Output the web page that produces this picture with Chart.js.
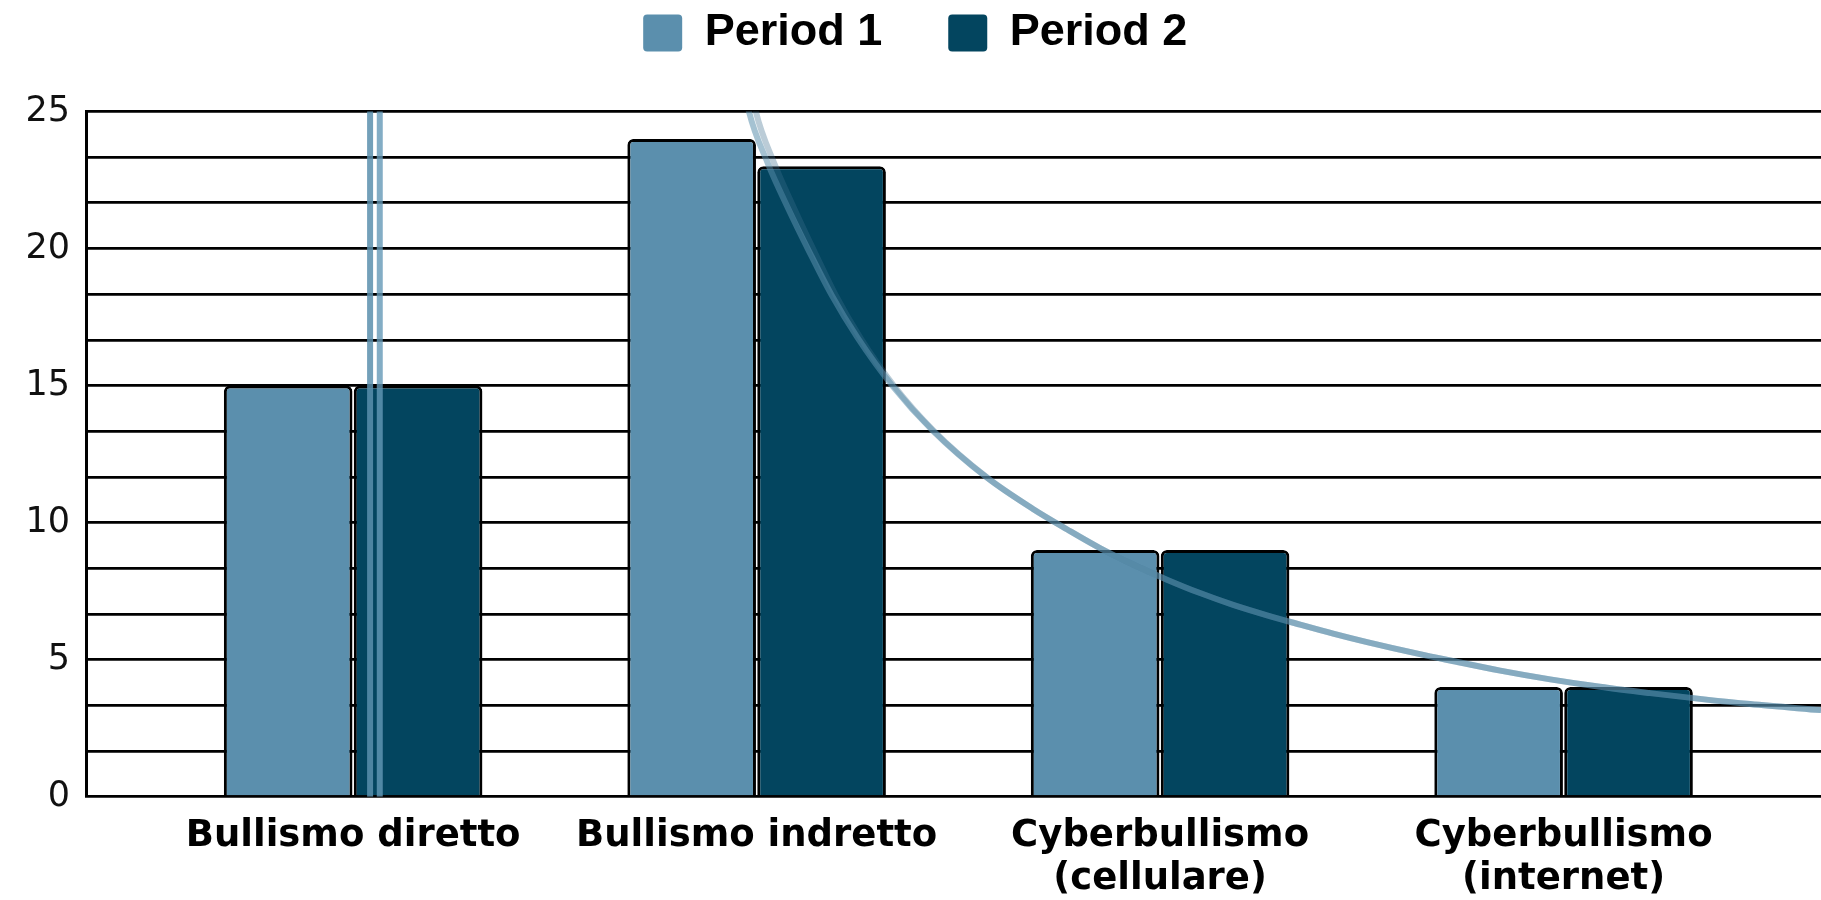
<!DOCTYPE html>
<html>
<head>
<meta charset="utf-8">
<title>Bullismo e cyberbullismo</title>
<script src="https://cdn.jsdelivr.net/npm/chart.js@4/dist/chart.umd.min.js"></script>
<style>
html, body { margin: 0; padding: 0; background: #fff; }
#wrap { position: relative; width: 1821px; height: 900px; }
</style>
</head>
<body>
<div id="wrap"><canvas id="chart"></canvas></div>
<script>
var categories = [['Bullismo diretto'], ['Bullismo indretto'], ['Cyberbullismo', '(cellulare)'], ['Cyberbullismo', '(internet)']];
var seriesNames = ['Period 1', 'Period 2'];
var period1 = [15, 24, 9, 4];
var period2 = [15, 23, 9, 4];
var yTickLabels = [0, 5, 10, 15, 20, 25];
var yMinorStep = 5 / 3;

// trend curves, x in category units (1 = first category)
var trend1 = [[1.955, 27], [1.981, 25], [2.028, 23.1], [2.077, 21.5], [2.130, 19.9], [2.186, 18.3], [2.250, 16.75],
	[2.336, 15.0], [2.437, 13.35], [2.570, 11.65], [2.685, 10.5], [2.770, 9.75], [2.851, 9.07], [2.933, 8.47],
	[3.017, 7.92], [3.099, 7.43], [3.181, 7.0], [3.265, 6.62], [3.347, 6.28], [3.429, 5.95], [3.513, 5.64],
	[3.644, 5.2], [3.719, 4.97], [3.843, 4.6], [3.967, 4.28], [4.090, 4.01], [4.214, 3.78], [4.338, 3.57],
	[4.462, 3.38], [4.638, 3.16]];
var trend2 = [[1.972, 27], [1.998, 25], [2.044, 23.1], [2.092, 21.5], [2.143, 19.9], [2.196, 18.3], [2.257, 16.75],
	[2.340, 15.0], [2.439, 13.35], [2.571, 11.65], [2.685, 10.5], [2.770, 9.75], [2.851, 9.07], [2.933, 8.47],
	[3.017, 7.92], [3.099, 7.43], [3.181, 7.0], [3.265, 6.62], [3.347, 6.28], [3.429, 5.95], [3.513, 5.64],
	[3.644, 5.2], [3.719, 4.97], [3.843, 4.6], [3.967, 4.28], [4.090, 4.01], [4.214, 3.78], [4.338, 3.57],
	[4.462, 3.38], [4.638, 3.16]];
// the two near-vertical strokes of the trends beside the first category
var trendDrop1 = [[1.042, 0], [1.042, 27]];
var trendDrop2 = [[1.066, 0], [1.066, 27]];

var colors = ['#5b8fad', '#03455f'];

function pts(list){
	return list.map(function(p){ return { x: p[0], y: p[1] }; });
}

function barData(values){
	return values.map(function(v, i){ return { x: i + 1, y: v }; });
}

function barSet(label, values, color){
	return {
		type: 'bar',
		label: label,
		xAxisID: 'x',
		yAxisID: 'y',
		data: barData(values),
		backgroundColor: color,
		borderColor: '#000',
		borderWidth: 3,
		borderRadius: 6,
		borderSkipped: 'start',
		categoryPercentage: 0.644,
		barPercentage: 0.99,
		order: 2
	};
}

function lineSet(list, color, width, smooth){
	return {
		type: 'line',
		label: '',
		xAxisID: 'x',
		yAxisID: 'y',
		data: pts(list),
		borderColor: color,
		borderWidth: width,
		pointRadius: 0,
		fill: false,
		tension: 0,
		cubicInterpolationMode: smooth ? 'monotone' : 'default',
		clip: 0,
		order: 0
	};
}

var ctx = document.getElementById('chart').getContext('2d');
var chart = new Chart(ctx, {
	data: {
		datasets: [
			barSet(seriesNames[0], period1, colors[0]),
			barSet(seriesNames[1], period2, colors[1]),
			lineSet(trend1, 'rgba(91,143,173,0.55)', 6, true),
			lineSet(trend2, 'rgba(60,110,140,0.35)', 6, true),
			lineSet(trendDrop1, 'rgba(91,143,173,0.85)', 6, false),
			lineSet(trendDrop2, 'rgba(100,152,182,0.8)', 6, false)
		]
	},
	options: {
		responsive: true,
		maintainAspectRatio: false,
		animation: false,
		layout: { padding: { left: 9.5, top: -55.5, right: 0, bottom: -18.7 } },
		plugins: {
			tooltip: { enabled: false },
			legend: {
				position: 'top',
				align: 'center',
				labels: {
					boxWidth: 39,
					boxHeight: 37,
					padding: 66,
					color: '#1a1a1a',
					useBorderRadius: true,
					borderRadius: 4,
					font: { family: 'Liberation Sans', size: 45, weight: 'bold' },
					generateLabels: function(){
						return seriesNames.map(function(name, i){
							return { text: name, fillStyle: colors[i], strokeStyle: colors[i], lineWidth: 0, borderRadius: 4, datasetIndex: i, hidden: false };
						});
					}
				}
			}
		},
		scales: {
			x: {
				type: 'linear',
				offset: false,
				min: 0.338,
				max: 4.638,
				grid: { display: false, drawTicks: false },
				border: { display: false },
				afterBuildTicks: function(axis){
					axis.ticks = categories.map(function(c, i){ return { value: i + 1 }; });
				},
				ticks: {
					autoSkip: false,
					maxRotation: 0,
					padding: 18,
					color: '#000',
					font: { family: 'DejaVu Sans', size: 37, weight: 'bold', lineHeight: 1.162 },
					callback: function(v){
						return categories[Math.round(v) - 1] || '';
					}
				}
			},
			y: {
				min: 0,
				max: 25,
				afterBuildTicks: function(axis){
					var t = [];
					for(var k = 0; k * yMinorStep <= 25 + 1e-9; k++) t.push({ value: k * yMinorStep });
					axis.ticks = t;
				},
				grid: { color: '#000', lineWidth: 2.8, drawTicks: false },
				border: { display: true, color: '#000', width: 3 },
				ticks: {
					padding: 16,
					color: '#111',
					font: { family: 'DejaVu Sans', size: 35 },
					callback: function(v){
						var r = Math.round(v);
						return (Math.abs(v - r) < 1e-6 && yTickLabels.indexOf(r) >= 0) ? String(r) : '';
					}
				}
			},
			// empty top axis, only keeps the gap between legend and plot
			gap: {
				type: 'linear',
				axis: 'x',
				position: 'top',
				min: 0,
				max: 1,
				grid: { display: false, drawTicks: false },
				border: { display: false },
				ticks: { display: false },
				afterFit: function(axis){ axis.height = 46; }
			}
		}
	}
});
</script>
</body>
</html>
